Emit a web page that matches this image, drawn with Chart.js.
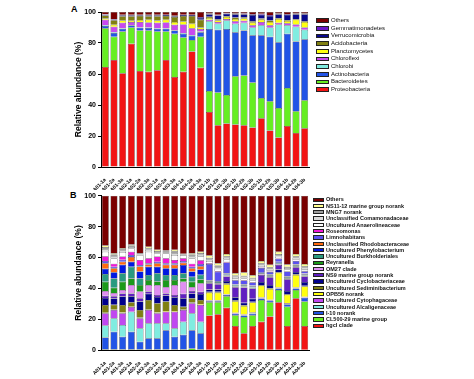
<!DOCTYPE html>
<html><head><meta charset="utf-8">
<script src="https://cdn.jsdelivr.net/npm/chart.js@4.4.1/dist/chart.umd.min.js"></script>
<style>
html,body{margin:0;padding:0;background:#fff}
body{width:474px;height:379px;position:relative;overflow:hidden;font-family:"Liberation Sans",Arial,sans-serif}
canvas{position:absolute;left:0}
#ca{top:0}
#cb{top:184px}
.pl{position:absolute;font-weight:bold;font-size:9px;color:#000;line-height:9px}
.it{position:absolute;white-space:nowrap;color:#111}
.bx{position:absolute;box-sizing:border-box;border:0.8px solid #222}
</style>
</head><body>
<div class="pl" style="left:71px;top:5px">A</div>
<div class="pl" style="left:70px;top:191px">B</div>
<canvas id="ca" width="474" height="190"></canvas>
<canvas id="cb" width="474" height="195"></canvas>
<div id="lgA"></div>
<div id="lgB"></div>
<script>
// ---------- categories ----------
const categories = ["A01-1a","A01-2a","A01-3a","A02-1a","A02-2a","A02-3a","A03-1a","A03-2a","A03-3a","A04-1a","A04-2a","A04-3a",
                    "A01-1b","A01-2b","A01-3b","A02-1b","A02-2b","A02-3b","A03-1b","A03-2b","A03-3b","A04-1b","A04-2b","A04-3b"];
const yTicks = [0,20,40,60,80,100];

// ---------- Panel A (phylum), bottom to top ----------
const proteobacteria   = [64.5,69,60.5,79.5,62,61.5,62.5,69,58,61.5,74.5,64, 35.5,27,28,27.5,27,25.5,31.5,23.5,19,26.5,22,25];
const bacteroidetes    = [25,15,27,10.5,26,26.5,25,18.5,28,22,7.5,20, 13.5,21,18.5,31,32,29,13,19,19,24.5,14,18];
const actinobacteria   = [1.5,2.5,1.7,1.3,1.8,1.7,1.7,1.7,2,2.5,2.7,3, 40,40.5,42.5,28.5,29,30.5,40.5,41.5,42.5,35,45,39.5];
const chlorobi         = [0.5,0.5,0.3,0.3,0.4,0.3,0.3,0.3,0.3,0.5,0.5,0.5, 5,4,5.5,5.5,5,5,6.5,6,11.5,5.5,9.5,6];
const chloroflexi      = [3.5,3.5,3.5,2,3.3,3.2,3.6,3.8,3.5,5.5,4.3,1.5, 1,1,1,1.5,1.3,1.5,2,1.5,1,1.2,1.5,1.5];
const planctomycetes   = [0.8,1.2,1.5,0.7,1.4,1.8,1.4,1.7,1.7,1.8,3,1, 1.2,1,1.3,1.5,1.5,1.5,1.5,2,2.5,1.5,3,3.5];
const acidobacteria    = [2,3,2.8,3,2.5,2.3,2.8,2.5,3.2,3.6,5,5, 0.8,0.8,0.5,1,0.8,1,0.8,1,0.5,0.5,0.5,0.5];
const verrucomicrobia  = [0.4,0.5,0.6,0.6,0.5,0.6,0.6,0.5,0.6,0.6,0.5,1.2, 1.5,2.5,1.5,2,2,4,2.5,3,2.5,3.5,3,4.5];
const gemmatimonadetes = [0.3,0.3,0.3,0.3,0.3,0.3,0.3,0.3,0.3,0.3,0.3,0.5, 0.5,0.5,0.4,0.5,0.5,0.5,0.5,0.5,0.5,0.5,0.5,0.5];
const othersA          = [1.5,4.5,1.8,1.8,1.8,1.8,1.8,1.7,2.4,1.7,1.7,3.3, 1,1.7,0.8,1,0.9,1.5,1.2,2,1,1.3,1,1];

// ---------- Panel B (genus), bottom to top ----------
const hgcIClade       = [0.2,0.2,0.2,0.2,0.2,0.2,0.2,0.2,0.2,0.2,0.2,0.2, 22.5,23.3,27.6,15.7,11,15.7,18.5,21.8,31,15.7,33.6,15.7];
const cl500           = [0.3,0.3,0.3,0.3,0.3,0.3,0.3,0.3,0.3,0.3,1,0.3, 8.5,7.7,7.4,6.9,10.5,7,14,9.2,8,12.5,5.4,15.8];
const i10Norank       = [7.7,11.5,8.3,11.5,5.1,7.3,7.3,12.5,8.3,9.5,11.8,10.5, 0.8,0.8,0.8,1,1,1,1,1,1,1.5,1,2.5];
const alcaligenaceae  = [7.8,8.7,7.6,13,8.6,9.7,9.7,4.5,5.4,8.5,11,7.5, 0.2,0.2,0.2,0.2,0.2,0.2,0.2,0.2,0.2,0.2,0.2,0.2];
const cytophagaceae   = [7.9,5.3,7.6,3,6.5,8.5,6.5,7.5,10.8,7.5,6.4,10.8, 0.3,0.3,0.3,0.5,0.5,0.5,0.5,0.5,0.5,0.5,0.5,0.5];
const opb56           = [0.4,0.5,0.5,0.5,0.5,0.5,0.5,0.5,0.5,0.5,0.5,0.5, 5,5,6.5,7.5,5.5,6.5,7.5,7,9.5,5.5,8,6.5];
const sediminibact    = [5,3,4.8,2.5,4.8,6,5.9,6,3.8,1.7,2.7,2.7, 0.5,0.5,0.5,0.5,0.5,0.5,0.5,0.5,0.5,0.5,0.5,0.5];
const cyclobacter     = [4.5,4,5.5,4,5.6,4,4,4,5,5.4,3.2,3.9, 1.5,1.5,1.5,2,1.5,2,2,2,1.5,2,1.5,2.5];
const ns9             = [1.5,1.5,2,1.8,2,1.5,1.4,1.3,1.5,3,1.5,1.5, 4,3.5,3,6.5,10,6.5,4.5,5,3,7.5,3,3.5];
const om27            = [3,2,2.2,5.4,4.4,4.2,6.4,4.2,6.4,7.8,2.7,5.4, 0.5,0.5,0.5,0.5,0.5,0.5,0.5,0.5,0.5,0.5,0.5,0.5];
const reyranella      = [6,3.5,5.4,4.3,4.2,3.3,2.3,4.5,3.3,2.1,3.3,2.5, 0.3,0.3,0.3,0.3,0.3,0.3,0.3,0.3,0.3,0.3,0.3,0.3];
const burkholderiales = [5,6,5.4,7.5,4.3,3.2,5.3,3.2,3.2,3.3,3.3,3, 0.5,0.5,0.5,0.5,0.5,0.5,0.5,0.5,0.5,0.5,0.5,0.5];
const phenylobact     = [3.5,4,5.5,3.3,4.4,5.3,4.2,4.3,4.3,5.4,3.3,3.5, 0.5,0.5,0.5,0.5,0.5,0.5,0.5,0.5,0.5,0.5,0.5,0.5];
const rhodobacter     = [3.5,2.5,2,3,3.3,1.5,2.3,2.3,2.3,1.5,2.1,2, 0.2,0.2,0.2,0.2,0.2,0.2,0.2,0.2,0.2,0.2,0.2,0.2];
const limnohabitans   = [1.5,1,1.3,1.3,1,0.8,1,1,1,1,1,1.5, 10.5,6,7,2.5,2.5,2,2.5,1.5,2,3,2,1.5];
const roseomonas      = [3,2,2,2.2,3.2,3.2,3.3,3.2,2.1,1.8,2,2.5, 0.5,0.5,0.5,0.3,0.3,0.3,0.3,0.3,0.3,0.3,0.3,0.3];
const anaerolineaceae = [3,3.5,3,2,3.2,4.3,2,3.2,3.2,2,3.5,2.5, 1.5,1.5,1.5,1,1,1,1,1,1,1,1,1];
const comamonadaceae  = [1.5,1.5,1,1,0.6,1.2,0.8,0.8,1.2,0.4,1.2,1, 1,1,1,1,1,1,1,1,1,1,1,1];
const mng7            = [1.5,1,0.8,1,0.5,1,0.8,0.5,1.2,0.3,1.2,1.2, 1,1,1,0.8,0.8,0.8,0.8,0.8,0.8,0.8,0.8,0.8];
const ns1112          = [1,0.7,0.6,0.7,0.3,1,0.8,0.5,1,0.3,0.8,0.8, 1.5,1.5,1.5,1.5,2,1.5,1.5,1.5,1.5,1.5,1.5,1.5];
const othersB         = [32.2,37.3,34,31.5,37,33,35,35.5,35,37.5,37.3,36.2, 38.7,43.7,37.7,50.1,49.7,51.5,42.2,44.7,36.2,44.5,37.7,44.2];

// ---------- series definitions (label, data, colour) ----------
const seriesA = [
  ["Proteobacteria", proteobacteria, "#f21414"],
  ["Bacteroidetes", bacteroidetes, "#66ee22"],
  ["Actinobacteria", actinobacteria, "#2254e6"],
  ["Chlorobi", chlorobi, "#80ece0"],
  ["Chloroflexi", chloroflexi, "#c848f0"],
  ["Planctomycetes", planctomycetes, "#ffff10"],
  ["Acidobacteria", acidobacteria, "#808012"],
  ["Verrucomicrobia", verrucomicrobia, "#08088c"],
  ["Gemmatimonadetes", gemmatimonadetes, "#6a18c8"],
  ["Others", othersA, "#7a0000"]
];
const seriesB = [
  ["hgcI clade", hgcIClade, "#f21414"],
  ["CL500-29 marine group", cl500, "#66ee22"],
  ["I-10 norank", i10Norank, "#2254e6"],
  ["Uncultured Alcaligenaceae", alcaligenaceae, "#80ece0"],
  ["Uncultured Cytophagaceae", cytophagaceae, "#c048f0"],
  ["OPB56 norank", opb56, "#ffff10"],
  ["Uncultured Sediminibacterium", sediminibact, "#7f7f12"],
  ["Uncultured Cyclobacteriaceae", cyclobacter, "#00008c"],
  ["NS9 marine group norank", ns9, "#6020c0"],
  ["OM27 clade", om27, "#e08ef2"],
  ["Reyranella", reyranella, "#1a9a1a"],
  ["Uncultured Burkholderiales", burkholderiales, "#2a9a80"],
  ["Uncultured Phenylobacterium", phenylobact, "#0018e0"],
  ["Unclassified Rhodobacteraceae", rhodobacter, "#ff6a10"],
  ["Limnohabitans", limnohabitans, "#5a50f0"],
  ["Roseomonas", roseomonas, "#f018d8"],
  ["Uncultured Anaerolineaceae", anaerolineaceae, "#ffffff"],
  ["Unclassified Comamonadaceae", comamonadaceae, "#dcdcdc"],
  ["MNG7 norank", mng7, "#a0a0a0"],
  ["NS11-12 marine group norank", ns1112, "#ffff90"],
  ["Others", othersB, "#7a0000"]
];

function makeChart(id, series, padTop, xHeight) {
  return new Chart(document.getElementById(id), {
    type: "bar",
    data: {
      labels: categories,
      datasets: series.map(s => ({
        label: s[0], data: s[1], backgroundColor: s[2],
        borderColor: "#1c1c1c", borderWidth: 0.5,
        barPercentage: 0.8, categoryPercentage: 1
      }))
    },
    options: {
      responsive: false, animation: false, maintainAspectRatio: false,
      layout: { padding: { top: padTop, left: 0, right: 165, bottom: 0 } },
      plugins: { legend: { display: false }, tooltip: { enabled: false } },
      scales: {
        x: {
          stacked: true,
          afterFit: s => { s.height = xHeight; },
          grid: { display: false },
          border: { display: true, color: "#000", width: 1 },
          ticks: { autoSkip: false, minRotation: 45, maxRotation: 45, padding: 2,
                   color: "#000", font: { size: 5, weight: "bold", family: "Liberation Sans, Arial" } }
        },
        y: {
          stacked: true, min: 0, max: 100,
          afterFit: s => { s.width = 101; },
          afterBuildTicks: s => { s.ticks = yTicks.map(v => ({ value: v })); },
          grid: { drawOnChartArea: false, drawTicks: true, tickLength: 3, color: "#000" },
          border: { display: true, color: "#000", width: 1 },
          ticks: { padding: 2, color: "#000", font: { size: 7, weight: "bold", family: "Liberation Sans, Arial" } },
          title: { display: true, text: "Relative abundance (%)", color: "#000",
                   padding: { top: 74, bottom: 0 },
                   font: { size: 8.5, weight: "bold", family: "Liberation Sans, Arial" } }
        }
      }
    }
  });
}
makeChart("ca", seriesA, 12, 23);
makeChart("cb", seriesB, 11.7, 28.7);

function legend(id, series, y0, step, bx, bw, bh, tx, fs, fw) {
  const el = document.getElementById(id);
  const items = series.slice().reverse();
  items.forEach((s, i) => {
    const cy = y0 + i * step;
    const b = document.createElement("div");
    b.className = "bx";
    b.style.cssText = `left:${bx}px;top:${cy - bh/2}px;width:${bw}px;height:${bh}px;background:${s[2]}`;
    el.appendChild(b);
    const t = document.createElement("div");
    t.className = "it";
    t.textContent = s[0];
    t.style.cssText = `left:${tx}px;top:${cy - fs*0.6}px;font-size:${fs}px;line-height:${fs*1.2}px;font-weight:${fw}`;
    el.appendChild(t);
  });
}
legend("lgA", seriesA, 20.7, 7.67, 315.5, 13.5, 4.6, 331, 6, "normal");
legend("lgB", seriesB, 199.7, 6.3, 313, 11, 4.3, 326, 5.5, "bold");
</script>
</body></html>
